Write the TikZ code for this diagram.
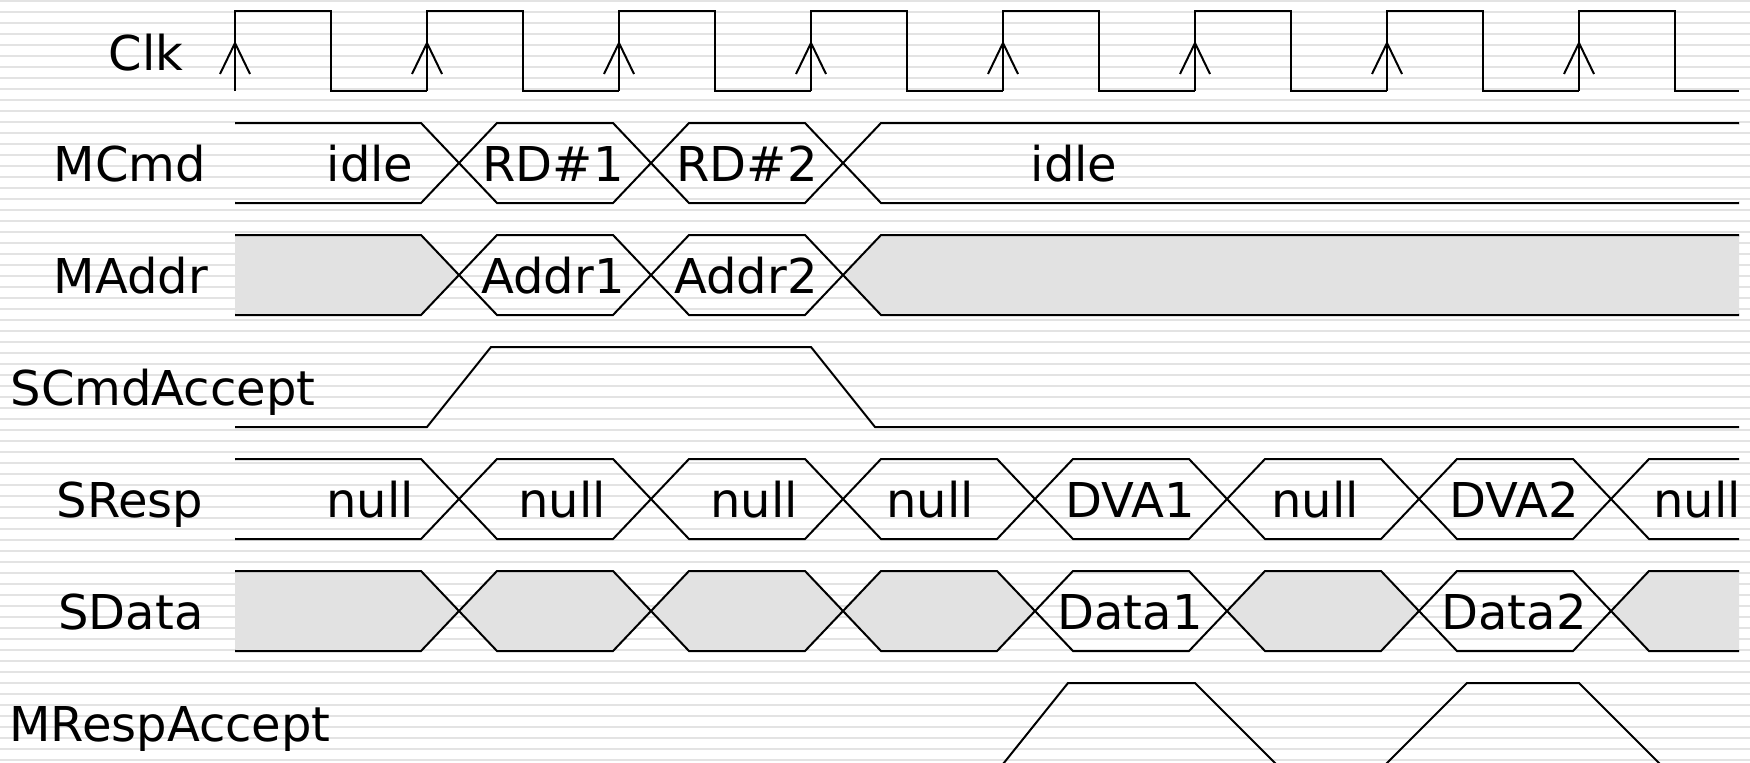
\documentclass[tikz,border=0pt]{standalone}
\usepackage{fontspec}
\setmainfont{DejaVu Sans}
\usepackage{xcolor}
\usepackage{tikz}

\definecolor{stripegray}{RGB}{227,227,227}
\definecolor{xgray}{RGB}{226,226,226}

% one bus value: fill, top of row, crossing in, crossing out
\newcommand{\busseg}[4]{%
  \draw[fill=#1] (#3,#2+40) -- (#3+38,#2) -- (#4-38,#2) -- (#4,#2+40) -- (#4-38,#2+80) -- (#3+38,#2+80) -- cycle;}

\begin{document}
\begin{tikzpicture}[x=0.5pt, y=-0.5pt, line width=1pt,
  txt/.style={font=\fontsize{24}{29}\selectfont, anchor=base, inner sep=0pt}]
\useasboundingbox (0,0) rectangle (1750,762);
\clip (0,0) rectangle (1750,762);

\foreach \s in {0,11,...,759}
  \fill[stripegray] (0,\s) rectangle (1750,\s+2.4);

% clock
\foreach \k in {0,...,7} {
  \pgfmathsetmacro\r{235+192*\k}
  \pgfmathsetmacro\e{min(\r+192,1739)}
  \draw (\r,91) -- (\r,11) -- (\r+96,11) -- (\r+96,91) -- (\e,91);
  \draw (\r-15,74) -- (\r,43) -- (\r+15,74);
}

\begin{scope}
\clip (235,0) rectangle (1739,762);
% MCmd
\foreach \a/\b in {197/459,459/651,651/843,843/1777}
  {\busseg{none}{123}{\a}{\b}}
% MAddr
\foreach \a/\b/\f in {197/459/xgray,459/651/none,651/843/none,843/1777/xgray}
  {\busseg{\f}{235}{\a}{\b}}
% SResp
\foreach \a/\b in {197/459,459/651,651/843,843/1035,1035/1227,1227/1419,1419/1611,1611/1803}
  {\busseg{none}{459}{\a}{\b}}
% SData
\foreach \a/\b/\f in {197/459/xgray,459/651/xgray,651/843/xgray,843/1035/xgray,1035/1227/none,1227/1419/xgray,1419/1611/none,1611/1803/xgray}
  {\busseg{\f}{571}{\a}{\b}}
\end{scope}

% SCmdAccept, MRespAccept
\draw (235,427) -- (427,427) -- (491,347) -- (811,347) -- (875,427) -- (1739,427);
\draw (1003,764) -- (1068,683) -- (1195,683) -- (1276,764);
\draw (1386,764) -- (1467,683) -- (1579,683) -- (1660,764);

% signal names
\node[txt] (clk) at (146,70) {Clk};
\node[txt] (mcmd) at (130,181) {MCmd};
\node[txt] (maddr) at (131,293) {MAddr};
\node[txt] (scmdaccept) at (163,405) {SCmdAccept};
\node[txt] (sresp) at (130,517) {SResp};
\node[txt] (sdata) at (131,629) {SData};
\node[txt] (mrespaccept) at (170,741) {MRespAccept};

% values
\node[txt] (cmd1) at (370,181) {idle};
\node[txt] (cmd2) at (553,181) {RD\#1};
\node[txt] (cmd3) at (747,181) {RD\#2};
\node[txt] (cmd4) at (1074,181) {idle};
\node[txt] (addr1) at (553,293) {Addr1};
\node[txt] (addr2) at (746,293) {Addr2};
\node[txt] (resp1) at (370,517) {null};
\node[txt] (resp2) at (562,517) {null};
\node[txt] (resp3) at (754,517) {null};
\node[txt] (resp4) at (930,517) {null};
\node[txt] (resp5) at (1130,517) {DVA1};
\node[txt] (resp6) at (1315,517) {null};
\node[txt] (resp7) at (1514,517) {DVA2};
\node[txt] (resp8) at (1697,517) {null};
\node[txt] (data1) at (1130,629) {Data1};
\node[txt] (data2) at (1514,629) {Data2};
\end{tikzpicture}
\end{document}
